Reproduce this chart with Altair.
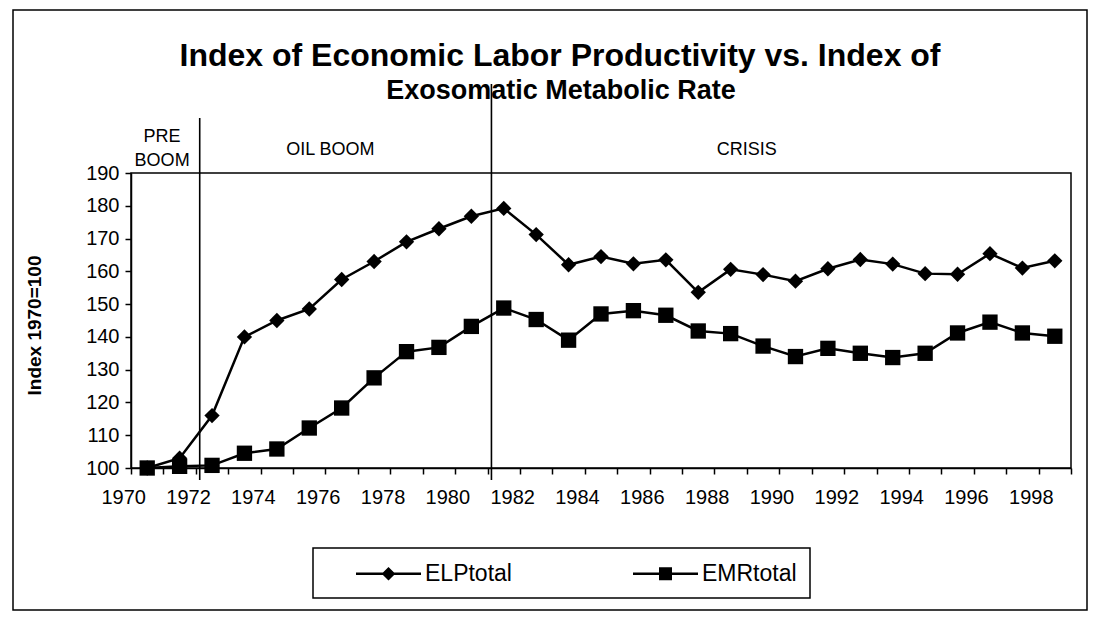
import altair as alt
import pandas as pd

FONT = "Liberation Sans"

# ---- data ----
years = list(range(1970, 1999))
elp = [100, 103, 116, 140, 145, 148.5, 157.5, 163, 169, 173, 176.8, 179.2,
       171.2, 162, 164.5, 162.3, 163.5, 153.6, 160.6, 159, 157, 160.8,
       163.6, 162.2, 159.3, 159.1, 165.4, 161, 163.2]
emr = [100, 100.5, 100.8, 104.5, 105.8, 112.2, 118.3, 127.5, 135.5, 136.8,
       143.2, 148.8, 145.3, 139, 147, 148, 146.6, 141.8, 141, 137.2, 134,
       136.5, 135, 133.7, 135, 141.2, 144.5, 141.2, 140.2]
series_names = ["ELPtotal", "EMRtotal"]
y_ticks = list(range(100, 200, 10))
title_lines = ["Index of Economic Labor Productivity vs. Index of",
               "Exosomatic Metabolic Rate"]
period_text = ["PRE", "BOOM", "OIL BOOM", "CRISIS"]
period_year = [1970.46, 1970.46, 1975.65, 1988.5]
divider_years = [1971.62, 1980.62]

df = pd.DataFrame({
    "year": years + years,
    "value": elp + emr,
    "series": [series_names[0]] * len(years) + [series_names[1]] * len(years),
})
tick_vals = [y - 0.5 for y in years] + [years[-1] + 0.5]

W, H = 940, 295

xscale = alt.Scale(domain=[years[0] - 0.5, years[-1] + 0.5], nice=False, zero=False)
yscale = alt.Scale(domain=[100, 190], nice=False, zero=False)

xaxis = alt.Axis(
    values=tick_vals,
    labelExpr="(datum.value + 0.5) % 2 == 0 ? format(datum.value + 0.5, 'd') : ''",
    labelOffset=-7.8, labelFlush=False, labelOverlap=False, labelBound=False,
    tickSize=6, labelPadding=13, title=None,
)
yaxis = alt.Axis(
    values=y_ticks, format="d", tickSize=6, labelPadding=6,
    title="Index 1970=100", titleFontWeight="bold", titleFontSize=19,
    titleX=-97, titleY=152, titleBaseline="middle", titleAngle=270,
)

X = alt.X("year:Q", scale=xscale, axis=xaxis)
Y = alt.Y("value:Q", scale=yscale, axis=yaxis)

base = alt.Chart(df)

lines = base.mark_line(color="black", strokeWidth=2.5).encode(
    x=X, y=Y, detail="series:N")

points = base.mark_point(filled=True, color="black", opacity=1, size=235).encode(
    x=X, y=Y,
    shape=alt.Shape("series:N",
                    scale=alt.Scale(domain=series_names, range=["diamond", "square"]),
                    legend=None))

# legend symbols: a thin bar (the line) plus the marker, both filled
legend_paths = [
    "M-1,-0.037L1,-0.037L1,0.037L-1,0.037Z M-0.21,0L0,-0.21L0.21,0L0,0.21Z",
    "M-1,-0.037L1,-0.037L1,0.037L-1,0.037Z M-0.2,-0.2L0.2,-0.2L0.2,0.2L-0.2,0.2Z",
]
legend_layer = base.transform_filter("false").mark_point(
    filled=True, color="black"
).encode(
    x=X, y=Y,
    shape=alt.Shape("series:N",
                    scale=alt.Scale(domain=series_names, range=legend_paths),
                    legend=alt.Legend(
                        orient="none", legendX=224, legendY=367,
                        direction="horizontal", title=None, padding=0,
                        symbolSize=4225, symbolFillColor="black",
                        symbolOpacity=1, labelFont=FONT, labelFontSize=23,
                        labelColor="black", labelOffset=3, columnPadding=118,
                        labelLimit=300)))

div_df = pd.DataFrame({"year": divider_years})
div1 = alt.Chart(div_df.iloc[[0]]).mark_rule(color="black", strokeWidth=1.6).encode(
    x=alt.X("year:Q", scale=xscale, axis=xaxis), y=alt.value(-55), y2=alt.value(H + 12))
div2 = alt.Chart(div_df.iloc[[1]]).mark_rule(color="black", strokeWidth=1.6).encode(
    x=alt.X("year:Q", scale=xscale, axis=xaxis), y=alt.value(-89), y2=alt.value(H + 12))

ann_df = pd.DataFrame({"year": period_year, "text": period_text})
ann_y = [-36, -12, -23, -23]
ann_layers = []
for i in range(len(period_text)):
    ann_layers.append(
        alt.Chart(ann_df.iloc[[i]]).mark_text(
            font=FONT, fontSize=18, color="black", align="center", baseline="middle"
        ).encode(x=alt.X("year:Q", scale=xscale, axis=xaxis),
                 y=alt.value(ann_y[i]), text="text:N"))

one = pd.DataFrame({"k": [0]})
title1 = alt.Chart(one).mark_text(
    text=title_lines[0], font=FONT, fontSize=32, fontWeight="bold",
    color="black", align="center", baseline="middle"
).encode(x=alt.value(429), y=alt.value(-117))
title2 = alt.Chart(one).mark_text(
    text=title_lines[1], font=FONT, fontSize=27, fontWeight="bold",
    color="black", align="center", baseline="middle"
).encode(x=alt.value(430), y=alt.value(-82))

legend_box = alt.Chart(one).mark_rect(filled=False, stroke="black", strokeWidth=1.5).encode(
    x=alt.value(182), x2=alt.value(679), y=alt.value(375), y2=alt.value(425))
frame = alt.Chart(one).mark_rect(filled=False, stroke="black", strokeWidth=1.5).encode(
    x=alt.value(-118), x2=alt.value(956), y=alt.value(-163), y2=alt.value(437))

chart = alt.layer(
    frame, legend_box, div1, div2, *ann_layers, title1, title2,
    lines, points, legend_layer,
).resolve_scale(shape="independent").properties(
    width=W, height=H,
    padding={"left": 123, "top": 165, "right": 18, "bottom": 143},
    autosize=alt.AutoSizeParams(type="none"),
).configure_view(
    stroke="black", strokeWidth=1.5
).configure_axis(
    grid=False, domainColor="black", domainWidth=1.5, tickColor="black",
    tickWidth=1.5, labelFont=FONT, labelFontSize=20, labelColor="black",
    titleFont=FONT, titleColor="black",
)

chart.save("out.html", embed_options={"renderer": "svg", "actions": False})
